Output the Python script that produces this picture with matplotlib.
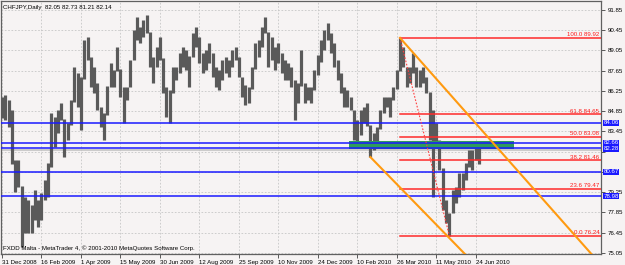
import matplotlib.pyplot as plt
import numpy as np

title = "CHFJPY,Daily  82.05 82.73 81.21 82.14"
credit = "FXDD Malta - MetaTrader 4, \u00a9 2001-2010 MetaQuotes Software Corp."

date_labels = ["31 Dec 2008", "16 Feb 2009", "1 Apr 2009", "15 May 2009", "30 Jun 2009",
               "12 Aug 2009", "25 Sep 2009", "10 Nov 2009", "24 Dec 2009", "10 Feb 2010",
               "26 Mar 2010", "11 May 2010", "24 Jun 2010"]
price_ticks = [91.85, 90.45, 89.05, 87.65, 86.25, 84.85, 83.45, 82.05,
               80.65, 79.25, 77.85, 76.45, 75.05]
hidden_ticks = [82.05, 80.65]  # covered by the highlighted labels

# bar highs / lows (roughly every 2-3 sessions)
highs = [85.83, 85.97, 85.63, 84.93, 81.48, 81.48, 79.70, 78.92, 78.71, 78.36,
         79.40, 78.71, 79.19, 80.09, 81.27, 84.73, 84.45, 84.93, 85.42, 84.30,
         84.04, 85.63, 87.91, 87.49, 87.20, 89.78, 89.98, 88.60, 87.91, 86.80,
         85.14, 84.73, 86.60, 88.18, 87.70, 89.29, 87.80, 86.52, 86.52, 88.39,
         90.47, 91.37, 90.67, 91.16, 91.50, 90.30, 88.60, 89.29, 89.98, 88.50,
         86.52, 86.32, 87.91, 87.91, 88.88, 89.29, 89.08, 88.70, 90.26, 90.67,
         89.98, 88.88, 89.08, 89.57, 88.88, 87.91, 87.70, 88.39, 88.60, 88.39,
         89.08, 89.29, 88.60, 87.22, 86.66, 86.52, 87.91, 89.57, 89.78, 90.67,
         91.37, 90.30, 89.98, 89.29, 89.57, 88.88, 88.39, 88.18, 87.91, 87.01,
         86.80, 89.08, 86.80, 86.52, 86.52, 87.70, 88.74, 89.78, 90.47, 90.95,
         90.26, 89.57, 88.39, 87.49, 86.52, 86.32, 85.83, 84.93, 84.24, 84.93,
         85.14, 85.42, 83.90, 83.34, 83.76, 84.93, 85.83, 85.83, 85.83, 86.52,
         87.70, 89.92, 89.29, 87.91, 87.91, 88.88, 87.91, 87.70, 87.91, 87.22,
         86.20, 84.93, 84.04, 82.86, 80.90, 78.71, 77.81, 79.40, 79.61, 80.58,
         80.58, 81.27, 82.17, 82.17, 82.38, 82.73]
lows = [84.38, 84.24, 83.76, 81.20, 79.26, 79.61, 75.46, 76.43, 76.43, 76.43,
        77.33, 76.85, 77.33, 78.71, 78.92, 81.00, 82.38, 83.34, 84.24, 81.68,
        82.86, 83.90, 85.50, 85.14, 83.55, 87.10, 88.39, 86.52, 86.11, 84.93,
        83.76, 82.86, 84.60, 86.50, 86.52, 87.60, 85.83, 84.04, 85.63, 86.52,
        88.39, 89.78, 89.57, 89.98, 90.26, 87.91, 86.80, 87.91, 88.39, 86.11,
        84.45, 84.04, 86.10, 87.01, 87.49, 87.91, 87.70, 86.52, 88.60, 89.29,
        88.18, 87.49, 87.70, 88.18, 87.22, 86.52, 86.32, 87.01, 87.49, 87.22,
        87.91, 88.39, 87.22, 85.83, 85.28, 85.42, 86.40, 87.80, 88.60, 89.29,
        90.26, 87.91, 88.39, 87.70, 88.18, 87.49, 87.01, 87.01, 86.52, 84.24,
        85.42, 86.60, 85.42, 85.63, 85.42, 86.32, 87.35, 88.25, 89.08, 89.78,
        88.88, 87.91, 87.01, 86.11, 85.14, 85.14, 84.93, 82.86, 82.65, 83.20,
        84.04, 83.80, 81.68, 82.17, 82.38, 83.60, 84.73, 85.14, 84.45, 85.63,
        86.40, 87.60, 87.91, 86.52, 86.80, 87.49, 86.52, 86.52, 86.80, 86.11,
        82.86, 78.92, 82.38, 80.78, 78.02, 77.12, 76.24, 77.81, 78.50, 78.92,
        79.40, 80.09, 80.99, 80.78, 81.48, 81.21]

support_levels = [84.06, 82.66, 82.28, 80.67, 78.98]
fib_pct = ["100.0", "61.8", "50.0", "38.2", "23.6", "0.0"]
fib_levels = [89.92, 84.65, 83.08, 81.46, 79.47, 76.24]
bid = 82.14
zone_low, zone_high = 82.26, 82.79
zone_start, zone_end = 105.5, 155.6

# trendline anchors (bar, price)
upper_line = ([121, 179.5], [89.92, 74.90])
lower_line = ([112, 141.5], [81.68, 74.80])
fib_line = ([121, 136], [89.92, 76.24])
fib_start = 121

bg = '#f6f3f3'
fs = 4.4
font = 'Liberation Sans'

fig = plt.figure(figsize=(6.25, 2.65), dpi=100, facecolor=bg)
ax = fig.add_axes([1 / 625, 11 / 265, 600 / 625, 253 / 265], facecolor=bg)

x = np.arange(len(highs))
ax.vlines(x, lows, highs, color='#5a5a5a', lw=2.3, zorder=3)

# horizontal support / resistance lines
for lv in support_levels:
    ax.axhline(lv, color='#1a1aff', lw=1.1, zorder=4)
ax.axhline(bid, color='#c4c4c4', lw=1.2, zorder=2)

# green zone
ax.fill_between([zone_start, zone_end], zone_low, zone_high, color='#2f9a5c', lw=0, zorder=3.5)

# fibonacci retracement
for pct, lv in zip(fib_pct, fib_levels):
    ax.plot([fib_start, 183], [lv, lv], color='#ff2a2a', lw=1.1, zorder=5)
    ax.text(181.6, lv + 0.04, '%s %.2f' % (pct, lv), color='#ff1a1a', fontsize=fs,
            family=font, ha='right', va='bottom', zorder=6)
ax.plot(fib_line[0], fib_line[1], color='#ff4040', lw=0.8, ls=(0, (1.5, 1.5)), zorder=5)

# channel lines
ax.plot(upper_line[0], upper_line[1], color='#ff9a10', lw=1.5, zorder=5)
ax.plot(lower_line[0], lower_line[1], color='#ff9a10', lw=1.5, zorder=5)

ax.set_xlim(-0.3, 182.1)
ax.set_ylim(74.98, 92.47)

xt = np.arange(len(date_labels)) * 12
ax.set_xticks(xt)
ax.set_xticklabels(date_labels, fontsize=fs, family=font, ha='left')
ax.set_yticks(price_ticks)
ax.set_yticklabels(['' if v in hidden_ticks else '%.2f' % v for v in price_ticks],
                   fontsize=fs, family=font)
ax.yaxis.tick_right()
ax.tick_params(axis='x', length=3, width=0.6, pad=1, color='#404040')
ax.tick_params(axis='y', length=3, width=0.6, pad=1.5, color='#404040')
ax.grid(True, color='#c6c6c6', ls=(0, (2, 2)), lw=0.6, zorder=0)
for sp in ax.spines.values():
    sp.set_color('#606060')
    sp.set_linewidth(0.9)

# highlighted price labels on the right scale
ytr = ax.get_yaxis_transform()
for lv in support_levels:
    ax.text(1.004, lv, '%.2f' % lv, transform=ytr, fontsize=fs, family=font,
            color='white', ha='left', va='center', zorder=10, clip_on=False,
            bbox=dict(boxstyle='square,pad=0.1', fc='#1a1aff', ec='none'))

ax.text(0.004, 0.985, title, transform=ax.transAxes, fontsize=fs, family=font,
        ha='left', va='top', color='black')
ax.text(0.004, 0.012, credit, transform=ax.transAxes, fontsize=fs, family=font,
        ha='left', va='bottom', color='black')

fig.savefig('out.png', dpi=100, facecolor=bg)
